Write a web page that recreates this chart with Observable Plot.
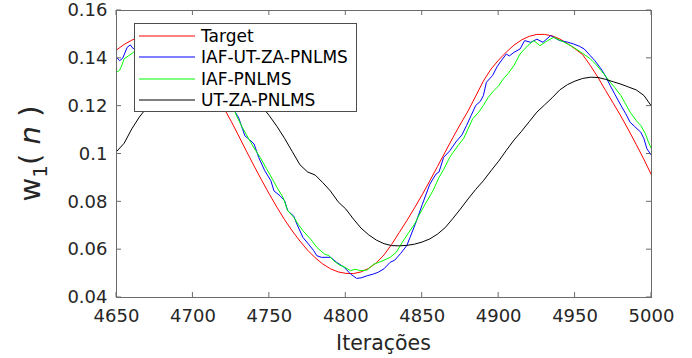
<!DOCTYPE html>
<html><head><meta charset="utf-8">
<script src="https://cdn.jsdelivr.net/npm/d3@7"></script>
<script src="https://cdn.jsdelivr.net/npm/@observablehq/plot@0.6"></script>
<style>body{margin:0;background:#fff} #chart svg{display:block}</style>
</head><body><div id="chart"></div>
<script>
// ---- data ----
const iter5 = [4650,4655,4660,4665,4670,4675,4680,4685,4690,4695,4700,4705,4710,4715,4720,4725,4730,4735,4740,4745,4750,4755,4760,4765,4770,4775,4780,4785,4790,4795,4800,4805,4810,4815,4820,4825,4830,4835,4840,4845,4850,4855,4860,4865,4870,4875,4880,4885,4890,4895,4900,4905,4910,4915,4920,4925,4930,4935,4940,4945,4950,4955,4960,4965,4970,4975,4980,4985,4990,4995,5000];
const targetVal = [0.1435,0.1458,0.1476,0.1490,0.1498,0.1499,0.1492,0.1478,0.1457,0.1428,0.1392,0.1350,0.1302,0.1250,0.1195,0.1137,0.1075,0.1012,0.0950,0.0890,0.0832,0.0777,0.0725,0.0678,0.0636,0.0598,0.0566,0.0540,0.0520,0.0507,0.0501,0.0500,0.0507,0.0522,0.0545,0.0578,0.0622,0.0672,0.0722,0.0775,0.0830,0.0888,0.0948,0.1008,0.1068,0.1125,0.1180,0.1242,0.1305,0.1355,0.1393,0.1426,0.1455,0.1477,0.1492,0.1500,0.1500,0.1494,0.1481,0.1462,0.1440,0.1415,0.1370,0.1320,0.1265,0.1212,0.1158,0.1100,0.1040,0.0978,0.0912];
const utzaVal = [0.1010,0.1045,0.1105,0.1155,0.1195,0.1230,0.1258,0.1280,0.1297,0.1310,0.1318,0.1321,0.1320,0.1314,0.1303,0.1290,0.1275,0.1258,0.1235,0.1200,0.1160,0.1115,0.1065,0.1010,0.0955,0.0925,0.0912,0.0880,0.0845,0.0800,0.0770,0.0728,0.0690,0.0662,0.0640,0.0625,0.0617,0.0616,0.0618,0.0623,0.0632,0.0645,0.0665,0.0692,0.0730,0.0770,0.0812,0.0852,0.0888,0.0930,0.0970,0.1015,0.1058,0.1095,0.1135,0.1175,0.1205,0.1235,0.1268,0.1290,0.1305,0.1316,0.1321,0.1320,0.1312,0.1302,0.1292,0.1280,0.1268,0.1245,0.1200];
const iafUtIter = [4650,4652,4654,4657,4659,4661,4665,4670,4675,4680,4685,4690,4695,4700,4705,4710,4715,4720,4725,4730,4734,4737,4740,4743,4747,4751,4753,4757,4760,4762,4766,4768,4772,4776,4779,4781,4784,4790,4794,4799,4803,4807,4810,4814,4818,4821,4825,4829,4832,4836,4840,4842,4846,4850,4855,4859,4861,4864,4868,4872,4876,4879,4882,4885,4888,4890,4892,4896,4899,4901,4905,4907,4910,4912,4914,4917,4921,4925,4929,4934,4940,4945,4949,4953,4956,4960,4963,4967,4970,4973,4976,4980,4983,4986,4989,4993,4995,4997,5000];
const iafUtVal = [0.1405,0.1390,0.1400,0.1446,0.1456,0.1440,0.1458,0.1470,0.1480,0.1483,0.1478,0.1466,0.1448,0.1424,0.1395,0.1360,0.1320,0.1275,0.1205,0.1150,0.1076,0.1060,0.1042,0.0986,0.0930,0.0888,0.0846,0.0825,0.0805,0.0763,0.0740,0.0707,0.0651,0.0620,0.0596,0.0575,0.0568,0.0568,0.0547,0.0526,0.0499,0.0480,0.0482,0.0491,0.0498,0.0505,0.0520,0.0547,0.0556,0.0585,0.0618,0.0651,0.0716,0.0788,0.0874,0.0916,0.0925,0.0986,0.1013,0.1050,0.1080,0.1119,0.1161,0.1203,0.1220,0.1244,0.1300,0.1328,0.1365,0.1384,0.1418,0.1410,0.1425,0.1432,0.1439,0.1474,0.1467,0.1480,0.1467,0.1495,0.1474,0.1468,0.1460,0.1450,0.1439,0.1411,0.1390,0.1356,0.1325,0.1286,0.1250,0.1203,0.1170,0.1133,0.1115,0.1091,0.1065,0.1022,0.0994];
const iafIter = [4650,4652,4653,4655,4658,4661,4665,4670,4675,4680,4685,4690,4695,4700,4705,4710,4715,4720,4725,4728,4732,4736,4740,4744,4748,4752,4755,4759,4762,4766,4769,4772,4777,4781,4786,4789,4792,4796,4799,4803,4806,4810,4814,4818,4822,4825,4829,4833,4837,4841,4845,4848,4852,4857,4861,4864,4868,4870,4874,4877,4880,4883,4887,4890,4893,4896,4900,4903,4906,4910,4914,4919,4923,4927,4932,4936,4943,4949,4954,4960,4964,4967,4970,4973,4976,4980,4983,4986,4990,4993,4996,4998,5000];
const iafVal = [0.1342,0.1350,0.1363,0.1398,0.1411,0.1425,0.1435,0.1450,0.1462,0.1468,0.1468,0.1460,0.1445,0.1425,0.1398,0.1365,0.1325,0.1280,0.1225,0.1167,0.1115,0.1069,0.1025,0.0986,0.0940,0.0895,0.0860,0.0818,0.0763,0.0735,0.0705,0.0679,0.0644,0.0610,0.0582,0.0575,0.0554,0.0535,0.0528,0.0512,0.0518,0.0512,0.0515,0.0538,0.0548,0.0556,0.0568,0.0589,0.0631,0.0670,0.0707,0.0745,0.0791,0.0846,0.0902,0.0935,0.0986,0.1005,0.1040,0.1064,0.1105,0.1147,0.1175,0.1203,0.1235,0.1259,0.1285,0.1314,0.1335,0.1370,0.1418,0.1453,0.1474,0.1453,0.1474,0.1488,0.1467,0.1446,0.1425,0.1398,0.1372,0.1349,0.1325,0.1300,0.1278,0.1244,0.1210,0.1175,0.1140,0.1119,0.1085,0.1050,0.1022];

const seriesNames = ["Target","IAF-UT-ZA-PNLMS","IAF-PNLMS","UT-ZA-PNLMS"];
const seriesColors = ["#ff0000","#0000ff","#00ff00","#000000"];
const xTicks = [4650,4700,4750,4800,4850,4900,4950,5000];
const yTicks = [0.04,0.06,0.08,0.1,0.12,0.14,0.16];
const xLabel = "Iterações";

// ---- build ----
const rows = (xs, ys) => xs.map((x, i) => ({x, y: ys[i]}));
const series = [rows(iter5, targetVal), rows(iafUtIter, iafUtVal), rows(iafIter, iafVal), rows(iter5, utzaVal)];

const chart = Plot.plot({
  width: 692, height: 358,
  marginLeft: 116, marginRight: 41, marginTop: 10, marginBottom: 61,
  style: {fontFamily: "'DejaVu Sans', sans-serif", background: "#fff"},
  x: {domain: [4650, 5000]},
  y: {domain: [0.04, 0.16]},
  marks: [
    ...series.map((d, i) => Plot.line(d, {x: "x", y: "y", stroke: seriesColors[i], strokeWidth: 1, clip: true})),
    Plot.frame({stroke: "#6b6b6b"}),
    Plot.axisX({ticks: xTicks, tickSize: 0, tickPadding: 12, fontSize: 18, color: "#262626", label: null, tickFormat: d => String(d)}),
    Plot.axisY({ticks: yTicks, tickSize: 0, tickPadding: 9, fontSize: 18, color: "#262626", label: null, tickFormat: d => String(d)})
  ]
});
document.getElementById("chart").appendChild(chart);

const svg = d3.select(chart);
const sx = chart.scale("x"), sy = chart.scale("y");
const X = v => sx.apply(v), Y = v => sy.apply(v);
const [x0, x1] = [X(4650), X(5000)];
const [yb, yt] = [Y(0.04), Y(0.16)];

// inward ticks on all four sides
const tg = svg.append("g").attr("stroke", "#6b6b6b").attr("stroke-width", 1);
xTicks.forEach(t => {
  tg.append("line").attr("x1", X(t)).attr("x2", X(t)).attr("y1", yb).attr("y2", yb - 5);
  tg.append("line").attr("x1", X(t)).attr("x2", X(t)).attr("y1", yt).attr("y2", yt + 5);
});
yTicks.forEach(t => {
  tg.append("line").attr("y1", Y(t)).attr("y2", Y(t)).attr("x1", x0).attr("x2", x0 + 5);
  tg.append("line").attr("y1", Y(t)).attr("y2", Y(t)).attr("x1", x1).attr("x2", x1 - 5);
});

// x label
svg.append("text").attr("x", (x0 + x1) / 2).attr("y", 350).attr("text-anchor", "middle")
  .style("font-size", "20.5px").attr("fill", "#262626").text(xLabel);

// y label  w_1( n )
const yl = svg.append("text").attr("transform", `translate(40,${(yb + yt) / 2}) rotate(-90)`)
  .attr("text-anchor", "middle").style("font-size", "29px").attr("fill", "#262626");
yl.append("tspan").text("w");
yl.append("tspan").attr("dy", 7).style("font-size", "20px").text("1");
yl.append("tspan").attr("dy", -7).text("( ");
yl.append("tspan").style("font-style", "italic").text("n");
yl.append("tspan").text(" )");

// legend
const lg = svg.append("g").attr("text-anchor", "start");
lg.append("rect").attr("x", 134.5).attr("y", 23.5).attr("width", 222).attr("height", 88)
  .attr("fill", "#fff").attr("stroke", "#4d4d4d").attr("stroke-width", 1);
const rowsY = [36, 57, 79, 100];
seriesNames.forEach((name, i) => {
  lg.append("line").attr("x1", 139).attr("x2", 195).attr("y1", rowsY[i]).attr("y2", rowsY[i])
    .attr("stroke", seriesColors[i]).attr("stroke-width", 1);
  lg.append("text").attr("x", 201).attr("y", rowsY[i]).attr("dy", "0.36em").attr("text-anchor", "start")
    .style("font-size", "17px").attr("fill", "#000").text(name);
});
</script>
</body></html>
